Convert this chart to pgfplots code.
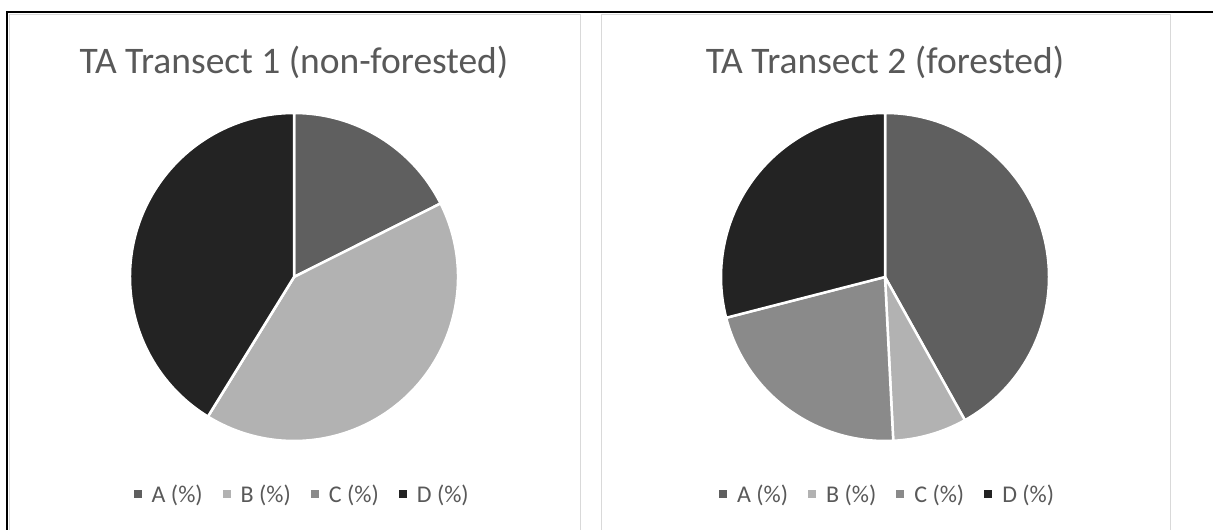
\documentclass[border=0pt]{standalone}
\usepackage{pgfplots}
\pgfplotsset{compat=1.18}
\usepackage{pgfplotstable}
\usepackage{fontspec}
\setmainfont{Carlito}
\definecolor{cA}{HTML}{5F5F5F}
\definecolor{cB}{HTML}{B2B2B2}
\definecolor{cC}{HTML}{8A8A8A}
\definecolor{cD}{HTML}{232323}
\definecolor{ttl}{HTML}{595959}
\definecolor{framegray}{HTML}{D9D9D9}

% pie 1: TA Transect 1 (non-forested)
\pgfplotstableread{
label value
A 17.6
B 41.2
C 0
D 41.2
}\pieone
% pie 2: TA Transect 2 (forested)
\pgfplotstableread{
label value
A 41.9
B 7.3
C 21.8
D 29.0
}\pietwo

\def\R{164pt}
% compute end angles (clockwise from 12 o'clock)
\newcommand\pieangles[2]{%
  \def\acc{90}%
  \pgfplotsforeachungrouped \i in {0,1,2,3}{%
    \pgfplotstablegetelem{\i}{value}\of{#1}%
    \pgfmathsetmacro\acc{\acc-3.6*\pgfplotsretval}%
    \expandafter\xdef\csname #2\i\endcsname{\acc}%
  }%
}
\pieangles{\pieone}{PO}
\pieangles{\pietwo}{PT}
\newcommand\ang[2]{\csname #1#2\endcsname}

\newcommand\slice[3]{%
  \fill[#3, draw=white, line width=2.5pt, line join=round]
    (axis cs:0,0) -- ++(#1:\R) arc[start angle=#1, end angle=#2, radius=\R] -- cycle;}

\pgfplotsset{
  piestyle/.style={
    anchor=center, width=328pt, height=328pt, scale only axis, hide axis,
    xmin=-1, xmax=1, ymin=-1, ymax=1, clip=false,
    title style={at={(0.5,1.103)}, anchor=base, font=\fontsize{37.5}{44}\selectfont, text=ttl},
    legend columns=4,
    legend style={draw=none, fill=none, anchor=center,
      font=\fontsize{24}{28}\selectfont, text=ttl,
      /tikz/every even column/.append style={column sep=18pt}},
    legend image code/.code={\fill[draw=none] (0pt,-4pt) rectangle (8pt,4pt);
      \path[draw=none, fill=none] (0pt,0pt) rectangle (16pt,0.1pt);},
  }
}

\begin{document}
\begin{tikzpicture}[x=1pt, y=1pt]
\useasboundingbox (0,0) rectangle (1213,530);
\clip (0,0) rectangle (1213,530);
% table / frame lines
\draw[framegray, line width=1pt] (9,515) rectangle (580,-10);
\draw[framegray, line width=1pt] (601,515) rectangle (1170,-10);
\draw[black, line width=2pt] (7,-10) -- (7,518) -- (1220,518);

\begin{axis}[piestyle, at={(294pt,253pt)}, title={TA Transect 1 (non-forested)},
  legend style={at={(0.525,-0.1616)}}]
\addlegendimage{fill=cA, draw=none}
\addlegendimage{fill=cB, draw=none}
\addlegendimage{fill=cC, draw=none}
\addlegendimage{fill=cD, draw=none}
\legend{A (\%), B (\%), C (\%), D (\%)}
\slice{90}{\ang{PO}{0}}{cA}
\slice{\ang{PO}{0}}{\ang{PO}{1}}{cB}
\slice{\ang{PO}{1}}{\ang{PO}{2}}{cC}
\slice{\ang{PO}{2}}{\ang{PO}{3}}{cD}
\end{axis}

\begin{axis}[piestyle, at={(885pt,253pt)}, title={TA Transect 2 (forested)},
  legend style={at={(0.508,-0.1616)}}]
\addlegendimage{fill=cA, draw=none}
\addlegendimage{fill=cB, draw=none}
\addlegendimage{fill=cC, draw=none}
\addlegendimage{fill=cD, draw=none}
\legend{A (\%), B (\%), C (\%), D (\%)}
\slice{90}{\ang{PT}{0}}{cA}
\slice{\ang{PT}{0}}{\ang{PT}{1}}{cB}
\slice{\ang{PT}{1}}{\ang{PT}{2}}{cC}
\slice{\ang{PT}{2}}{\ang{PT}{3}}{cD}
\end{axis}
\end{tikzpicture}
\end{document}
